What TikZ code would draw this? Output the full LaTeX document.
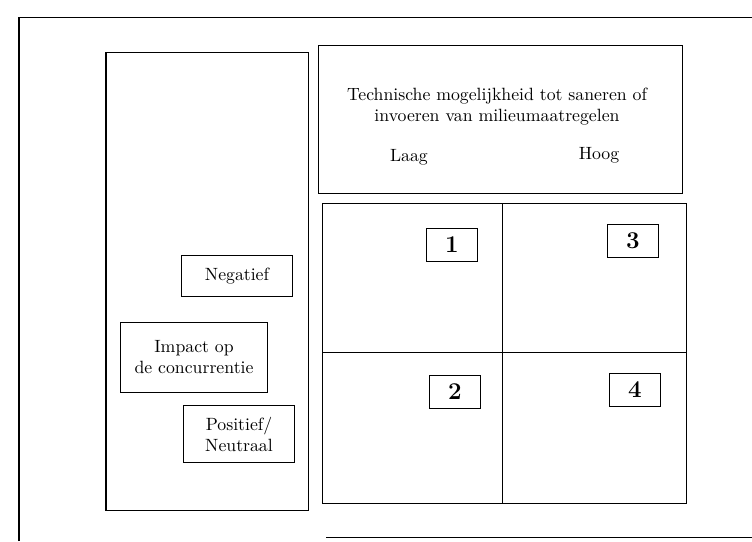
\documentclass[tikz,border=0pt]{standalone}
\begin{document}
\begin{tikzpicture}[x=0.021cm, y=-0.021cm, line width=0.6pt,
	every node/.style={font=\fontsize{10.6}{12.6}\selectfont},
	numbox/.style={draw, minimum width=1.07cm, minimum height=0.71cm, font=\Large\bfseries},
	labbox/.style={draw, align=center, inner sep=2pt}]
			
			\useasboundingbox (0,0) rectangle (752,541);
			
			\coordinate (TL) at (19,17); 
			\coordinate (TR) at (752,17); 
			\coordinate (BL) at (19,541);
			\coordinate (BS) at (326,537); 
			\coordinate (BE) at (752,537); 
			
			%%outer frame, open at the right
			\draw (BL) -- (TL) -- (TR);
			\draw (BS) -- (BE);
			
			%%panels
			\draw (106,52) rectangle (308,510);
			\draw (318,45) rectangle (682,193);
			\draw (322,203) rectangle (686,503);
			\draw (502,203) -- (502,503);
			\draw (322,352) -- (686,352);
			
			\node (title) at (497,107) [align=center] {Technische mogelijkheid tot saneren of\\invoeren van milieumaatregelen};
			\node (laag) at (409,157) {Laag};
			\node (hoog) at (599,155) {Hoog};
			
			\node[numbox] (n1) at (452,245) {1};
			\node[numbox] (n3) at (633,241) {3};
			\node[numbox] (n2) at (455,392) {2};
			\node[numbox] (n4) at (635,390) {4};
			
			\node[labbox, minimum width=2.31cm, minimum height=0.86cm] (neg) at (237,276) {Negatief};
			\node[labbox, minimum width=3.07cm, minimum height=1.47cm] (imp) at (194,357) {Impact op\\de concurrentie};
			\node[labbox, minimum width=2.31cm, minimum height=1.2cm] (pos) at (239,434) {Positief/\\Neutraal};
			
		\end{tikzpicture}
\end{document}
